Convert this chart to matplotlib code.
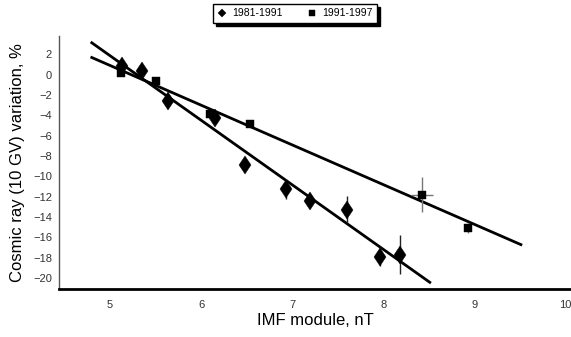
import matplotlib

matplotlib.use("Agg")

import matplotlib.pyplot as plt
import numpy as np

plt.rcParams["font.family"] = ["Liberation Sans", "DejaVu Sans"]

# 1981-1991 (diamonds)
imf_81 = np.array([5.13, 5.355, 5.635, 6.15, 6.48, 6.93, 7.20, 7.60, 7.96, 8.18])
cr_81 = np.array([0.88, 0.36, -2.57, -4.3, -8.87, -11.27, -12.45, -13.27, -17.9, -17.7])
err_81 = np.array([0.4, 0.4, 0.4, 0.4, 0.5, 1.0, 0.6, 1.3, 0.9, 1.9])

# 1991-1997 (squares)
imf_91 = np.array([5.12, 5.50, 6.10, 6.54, 8.42, 8.93])
cr_91 = np.array([0.19, -0.63, -3.88, -4.86, -11.79, -15.07])
yerr_91 = np.array([0.3, 0.3, 0.3, 0.3, 1.7, 0.5])
xerr_91 = np.array([0.0, 0.0, 0.0, 0.0, 0.12, 0.0])

# regression lines (end points)
fit_x_81 = [4.80, 8.51]
fit_y_81 = [3.15, -20.43]
fit_x_91 = [4.80, 9.51]
fit_y_91 = [1.70, -16.72]

x_ticks = [5, 6, 7, 8, 9, 10]
y_ticks = list(range(2, -22, -2))

fig = plt.figure(figsize=(5.71, 3.37), dpi=100)
ax = fig.add_axes([0.1033, 0.1424, 0.8967, 0.7506])

ax.plot(fit_x_81, fit_y_81, color="black", linewidth=2.0, zorder=2)
ax.plot(fit_x_91, fit_y_91, color="black", linewidth=2.0, zorder=2)

ax.errorbar(imf_81, cr_81, yerr=err_81, fmt="none", ecolor="#222222",
            elinewidth=1.0, capsize=0, zorder=3)
ax.errorbar(imf_91, cr_91, yerr=yerr_91, xerr=xerr_91, fmt="none",
            ecolor="#777777", elinewidth=1.0, capsize=0, zorder=3)

ax.plot(imf_81, cr_81, linestyle="none", marker="d", markersize=9.5,
        markeredgewidth=0.3, color="black", label="1981-1991", zorder=4)
ax.plot(imf_91, cr_91, linestyle="none", marker="s", markersize=5.8,
        markeredgewidth=0.3, color="black", label="1991-1997", zorder=4)

ax.set_xlim(4.44, 10.06)
ax.set_ylim(-21.09, 3.81)
ax.set_xticks(x_ticks)
ax.set_yticks(y_ticks)
ax.tick_params(axis="both", length=0, labelsize=8, labelcolor="#333333")
ax.tick_params(axis="x", pad=8)
ax.tick_params(axis="y", pad=5)

for side in ("top", "right"):
    ax.spines[side].set_visible(False)
ax.spines["left"].set_color("#555555")
ax.spines["left"].set_linewidth(1.0)
ax.spines["bottom"].set_color("black")
ax.spines["bottom"].set_linewidth(2.0)

ax.set_xlabel("IMF module, nT", fontsize=12, labelpad=2)
ax.set_ylabel("Cosmic ray (10 GV) variation, %", fontsize=12, labelpad=6)

handles, labels = ax.get_legend_handles_labels()
leg = fig.legend(handles, labels, loc="center", bbox_to_anchor=(0.517, 0.96),
                 ncol=2, fontsize=7.5, frameon=True, fancybox=False,
                 shadow={"color": "black", "alpha": 1.0},
                 edgecolor="black", handlelength=0.9,
                 handletextpad=0.5, columnspacing=2.4, borderpad=0.45,
                 borderaxespad=0)
leg.get_frame().set_linewidth(1.0)
leg.legend_handles[0].set_marker("D")
leg.legend_handles[0].set_markersize(4.2)
leg.legend_handles[1].set_markersize(4.5)

fig.savefig("out.png", dpi=100)
plt.close(fig)
